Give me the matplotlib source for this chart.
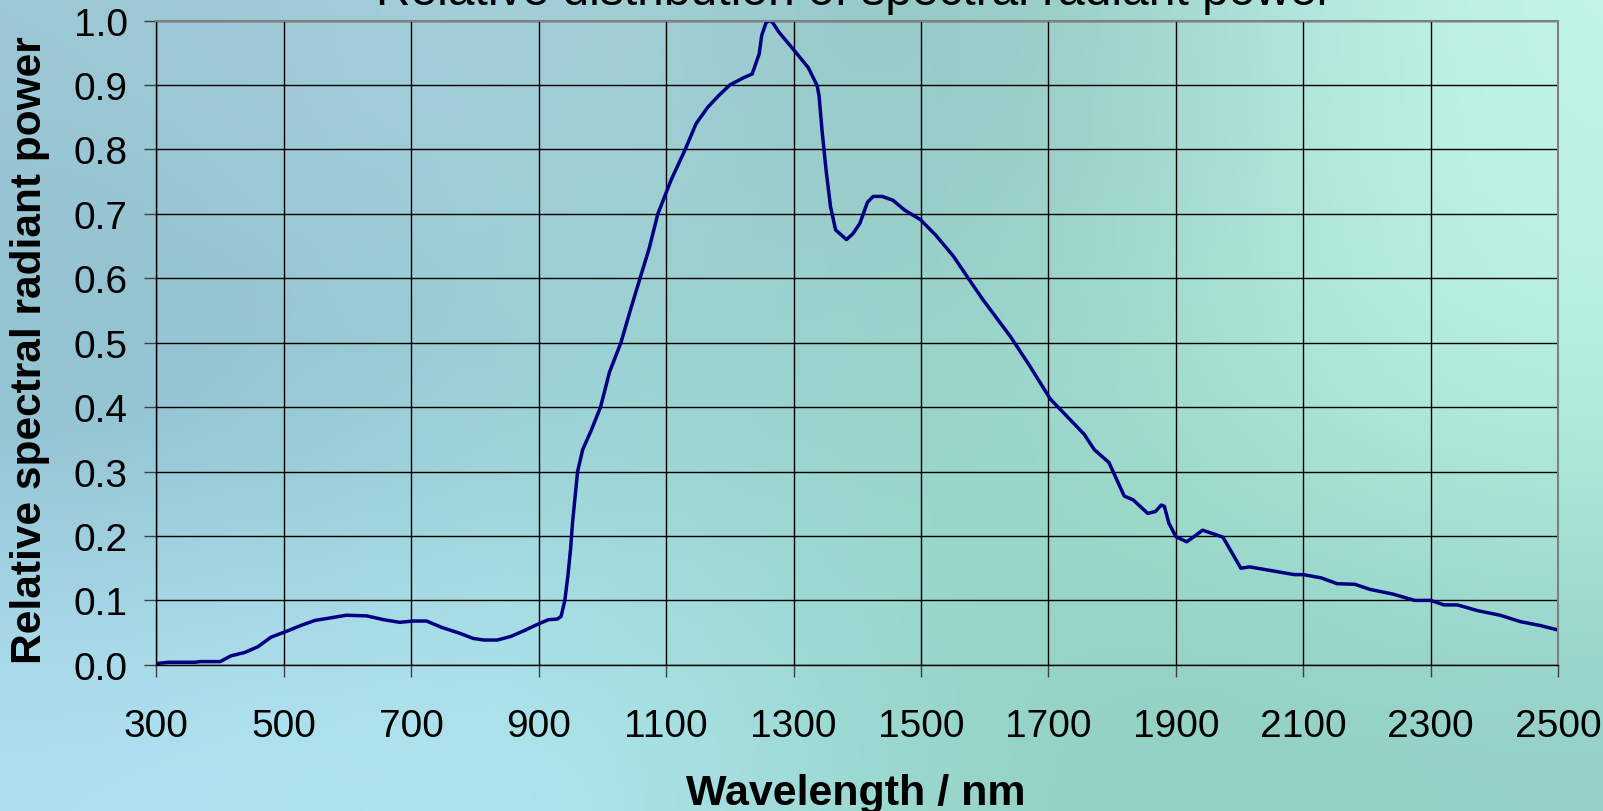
import numpy as np
import matplotlib
matplotlib.use("Agg")
import matplotlib.pyplot as plt

plt.rcParams['font.family'] = ['Liberation Sans', 'DejaVu Sans']

# spectrum
wavelength = [300, 319, 361, 368, 400, 417, 438, 459, 480, 504, 529, 549, 574, 598,
              630, 657, 682, 703, 724, 748, 776, 797, 814, 835, 856, 877, 894, 915,
              929, 935, 941, 946, 950, 953, 957, 961, 969, 982, 997, 1011, 1029, 1044,
              1059, 1073, 1087, 1108, 1130, 1147, 1165, 1182, 1200, 1221, 1235, 1242,
              1246, 1250, 1257, 1263, 1267, 1277, 1299, 1323, 1337, 1340, 1345, 1351,
              1358, 1366, 1383, 1393, 1404, 1416, 1425, 1439, 1456, 1474, 1499, 1523,
              1551, 1579, 1597, 1640, 1670, 1703, 1756, 1772, 1795, 1819, 1833, 1856,
              1868, 1877, 1882, 1889, 1900, 1917, 1930, 1942, 1960, 1974, 2002, 2016,
              2086, 2100, 2128, 2153, 2181, 2205, 2240, 2275, 2300, 2321, 2342, 2374,
              2409, 2441, 2472, 2500]
power = [0.002, 0.004, 0.004, 0.005, 0.005, 0.014, 0.019, 0.028, 0.043, 0.052, 0.062,
         0.069, 0.073, 0.077, 0.076, 0.070, 0.066, 0.068, 0.068, 0.058, 0.049, 0.041,
         0.0385, 0.0385, 0.044, 0.053, 0.061, 0.070, 0.071, 0.075, 0.10, 0.14, 0.18,
         0.22, 0.26, 0.30, 0.334, 0.363, 0.40, 0.454, 0.50, 0.551, 0.60, 0.645, 0.70,
         0.753, 0.80, 0.84, 0.865, 0.883, 0.90, 0.911, 0.917, 0.937, 0.948, 0.977,
         0.997, 1.0, 0.997, 0.982, 0.956, 0.927, 0.899, 0.883, 0.826, 0.768, 0.711,
         0.675, 0.66, 0.669, 0.685, 0.718, 0.727, 0.727, 0.721, 0.706, 0.691, 0.667,
         0.634, 0.593, 0.567, 0.51, 0.465, 0.4125, 0.358, 0.334, 0.314, 0.262, 0.256,
         0.235, 0.238, 0.248, 0.246, 0.22, 0.199, 0.191, 0.2, 0.209, 0.203, 0.198,
         0.15, 0.152, 0.14, 0.14, 0.135, 0.126, 0.125, 0.117, 0.11, 0.1, 0.1, 0.093,
         0.093, 0.084, 0.077, 0.067, 0.061, 0.054]

xticks = list(range(300, 2501, 200))
yticks = [round(0.1 * i, 1) for i in range(11)]

# background gradient colours (rows: top, middle, bottom)
bg = np.array([
    [[156, 200, 214], [168, 212, 220], [140, 192, 188], [196, 246, 234]],
    [[140, 188, 203], [156, 212, 212], [148, 212, 196], [180, 240, 224]],
    [[176, 224, 240], [176, 232, 240], [144, 208, 192], [148, 208, 200]],
]) / 255.0


def main():
    fig = plt.figure(figsize=(16.03, 8.12), dpi=100)
    bgax = fig.add_axes([0, 0, 1, 1], zorder=-10)
    bgax.imshow(bg, aspect='auto', interpolation='bicubic', extent=[0, 1, 0, 1])
    bgax.set_axis_off()

    ax = fig.add_axes([0.0976, 0.180, 0.8744, 0.7935])
    ax.set_facecolor('none')
    ax.plot(wavelength, power, color='#000080', lw=2.5, solid_joinstyle='round')
    ax.set_xlim(300, 2500)
    ax.set_ylim(0, 1.0)
    ax.set_xticks(xticks)
    ax.set_yticks(yticks)
    ax.set_yticklabels([f"{v:.1f}" for v in yticks])
    ax.grid(True, color='black', lw=1.0)
    ax.set_axisbelow(True)
    ax.tick_params(axis='both', direction='out', length=8.5, width=1.0,
                   color='#404040', labelsize=28)
    ax.tick_params(axis='x', pad=22.5)
    ax.tick_params(axis='y', pad=12)
    for s in ['top', 'right']:
        ax.spines[s].set_color('#808080')
        ax.spines[s].set_linewidth(1.5)
    for s in ['left', 'bottom']:
        ax.spines[s].set_color('black')
        ax.spines[s].set_linewidth(1.0)

    fig.text(0.533, 1 - 5 / 812, 'Relative distribution of spectral radiant power',
             ha='center', va='baseline', fontsize=34.5)
    fig.text(30 / 1603, 1 - 350 / 812, 'Relative spectral radiant power',
             rotation=90, ha='center', va='center', fontsize=30.5, fontweight='bold')
    fig.text(855.5 / 1603, 1 - 805 / 812, 'Wavelength / nm', ha='center', va='baseline',
             fontsize=31, fontweight='bold')

    fig.savefig('out.png', dpi=100)


if __name__ == "__main__":
    main()
